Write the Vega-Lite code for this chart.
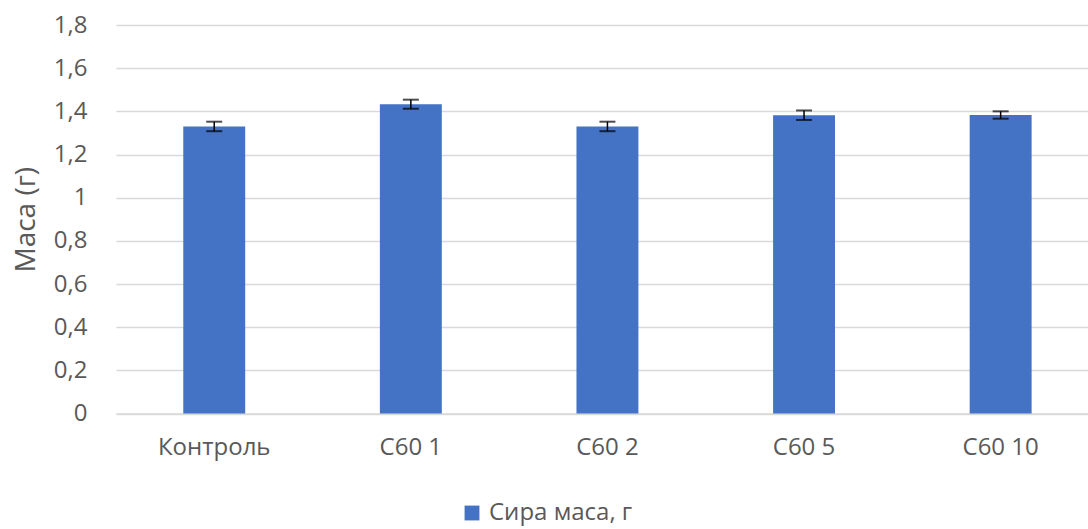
{
  "$schema": "https://vega.github.io/schema/vega-lite/v6.json",
  "autosize": {"type": "none"},
  "padding": {"left": 116, "top": 25, "right": 0, "bottom": 115.5},
  "width": 972,
  "height": 388.5,
  "background": "white",
  "config": {"view": {"stroke": null}, "font": "Open Sans"},
  "data": {"values": [
    {"group": "Контроль", "mass": 1.33, "err": 0.022, "series": "Сира маса, г"},
    {"group": "C60 1", "mass": 1.433, "err": 0.021, "series": "Сира маса, г"},
    {"group": "C60 2", "mass": 1.33, "err": 0.022, "series": "Сира маса, г"},
    {"group": "C60 5", "mass": 1.382, "err": 0.022, "series": "Сира маса, г"},
    {"group": "C60 10", "mass": 1.383, "err": 0.017, "series": "Сира маса, г"}
  ]},
  "encoding": {
    "x": {"field": "group", "type": "nominal", "sort": null,
      "scale": {"paddingInner": 0.685, "paddingOuter": 0.3145, "align": 0.544},
      "axis": {"title": null, "labelAngle": 0, "labelFontSize": 24, "labelColor": "#595959",
        "labelPadding": 22, "ticks": false, "domainColor": "#d9d9d9", "domainWidth": 1.5, "grid": false}}
  },
  "layer": [
    {
      "mark": {"type": "bar", "color": "#4472C4"},
      "encoding": {
        "y": {"field": "mass", "type": "quantitative", "title": "Маса (г)",
          "scale": {"domain": [0, 1.8]},
          "axis": {"titleFontSize": 28, "titleFontWeight": "normal", "titleColor": "#595959",
            "titlePadding": 13, "values": [0, 0.2, 0.4, 0.6, 0.8, 1, 1.2, 1.4, 1.6, 1.8],
            "labelExpr": "replace(format(datum.value, '.1~f'), '.', ',')", "labelOverlap": false,
            "labelFontSize": 24, "labelColor": "#595959", "labelPadding": 29,
            "ticks": false, "domain": false, "gridColor": "#d9d9d9", "gridWidth": 1.5}},
        "color": {"field": "series", "type": "nominal",
          "scale": {"range": ["#4472C4"]},
          "legend": {"title": null, "orient": "none", "legendX": 344, "legendY": 476,
            "symbolType": "square", "symbolSize": 220, "labelFontSize": 24, "labelColor": "#595959",
            "symbolStrokeWidth": 0, "labelOffset": 5}}
      }
    },
    {
      "mark": {"type": "errorbar", "ticks": {"size": 16, "thickness": 2, "color": "black"}, "rule": {"strokeWidth": 1.5, "color": "black"}},
      "encoding": {
        "y": {"field": "mass", "type": "quantitative", "title": "Маса (г)"},
        "yError": {"field": "err"}
      }
    }
  ]
}
